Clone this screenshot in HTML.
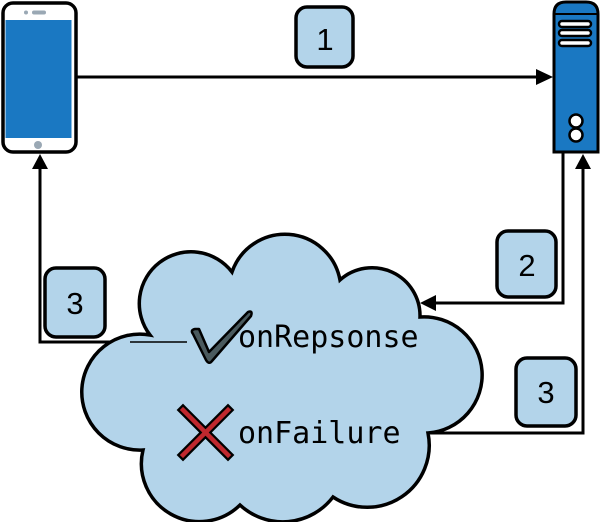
<!DOCTYPE html>
<html><head><meta charset="utf-8"><style>
html,body{margin:0;padding:0;background:#fff;}
svg{display:block;}
</style></head><body>
<svg width="600" height="522" viewBox="0 0 600 522" xmlns="http://www.w3.org/2000/svg">
<!-- phone -->
<rect x="3" y="3" width="73" height="149" rx="10" fill="#fff" stroke="#000" stroke-width="3.5"/>
<rect x="5.5" y="20" width="66" height="118" fill="#1a78c2"/>
<circle cx="26" cy="12.5" r="2" fill="#9aa8b4"/>
<rect x="32" y="10.5" width="14" height="4" rx="2" fill="#9aa8b4"/>
<circle cx="38" cy="145" r="4" fill="#9aa8b4"/>
<!-- server -->
<path d="M554,152 L554,14 Q554,2 566,2 L586,2 Q598,2 598,14 L598,152 Z" fill="#1a78c2" stroke="#000" stroke-width="3"/>
<line x1="554" y1="14" x2="598" y2="14" stroke="#000" stroke-width="2"/>
<rect x="559" y="21" width="32" height="6" rx="3" fill="#fff" stroke="#000" stroke-width="2.5"/>
<rect x="559" y="30" width="32" height="6" rx="3" fill="#fff" stroke="#000" stroke-width="2.5"/>
<rect x="559" y="40" width="32" height="6" rx="3" fill="#fff" stroke="#000" stroke-width="2.5"/>
<circle cx="576" cy="121" r="6.5" fill="#fff" stroke="#000" stroke-width="2.5"/>
<circle cx="576" cy="135" r="6.5" fill="#fff" stroke="#000" stroke-width="2.5"/>
<!-- arrow 1 -->
<line x1="77" y1="77" x2="540" y2="77" stroke="#000" stroke-width="3"/>
<polygon points="553,77 536,69 536,85" fill="#000"/>
<!-- arrow 2 -->
<polyline points="563,152 563,303 432,303" fill="none" stroke="#000" stroke-width="3"/>
<polygon points="420,303 436,295 436,311" fill="#000"/>
<!-- arrow 3 right -->
<polyline points="428,433 583,433 583,166" fill="none" stroke="#000" stroke-width="3"/>
<polygon points="583,154 575,169 591,169" fill="#000"/>
<!-- arrow 3 left -->
<polyline points="187,342 40,342 40,166" fill="none" stroke="#000" stroke-width="3"/>
<polygon points="40,154 32,169 48,169" fill="#000"/>
<!-- cloud -->
<path d="M150,335 A58 58 0 1 0 143,450 A58 58 0 0 0 240,505 A63 63 0 0 0 333,497 A62 62 0 0 0 428,433 A58 58 0 0 0 420,317 A48 48 0 0 0 340,280 A56 56 0 0 0 232,272 A50 50 0 0 0 150,335 Z" fill="#b3d4ea" stroke="#000" stroke-width="3.5"/>
<line x1="130" y1="342" x2="187" y2="342" stroke="#000" stroke-width="1.5"/>
<!-- labels -->
<g stroke="#000" stroke-width="3.5" fill="#b3d4ea">
<rect x="296" y="7" width="57" height="60" rx="11"/>
<rect x="497" y="231" width="59" height="66" rx="11"/>
<rect x="516" y="358" width="60" height="68" rx="11"/>
<rect x="45" y="268" width="60" height="69" rx="11"/>
</g>
<g font-family="'Liberation Sans','DejaVu Sans',sans-serif" font-size="31" fill="#000" text-anchor="middle">
<text x="325" y="50">1</text>
<text x="527" y="276">2</text>
<text x="546" y="403">3</text>
<text x="75" y="314">3</text>
</g>
<!-- check -->
<path d="M193,334 Q190,330 195,329 L199,329 L209,352 L248,312 Q253,310 251,316 L212,361 Q209,365 206,360 Z" fill="#4a5a5e" stroke="#000" stroke-width="2.5" stroke-linejoin="round"/>
<!-- X -->
<g stroke="#000" stroke-width="9" stroke-linecap="square">
<line x1="183" y1="410" x2="228" y2="455"/><line x1="228" y1="410" x2="183" y2="455"/></g>
<g stroke="#c0282e" stroke-width="4.5" stroke-linecap="square">
<line x1="183" y1="410" x2="228" y2="455"/><line x1="228" y1="410" x2="183" y2="455"/></g>
<g font-family="'DejaVu Sans Mono','Liberation Mono',monospace" font-size="30" fill="#000">
<text x="238" y="347">onRepsonse</text>
<text x="238" y="443">onFailure</text>
</g>
</svg>
</body></html>
